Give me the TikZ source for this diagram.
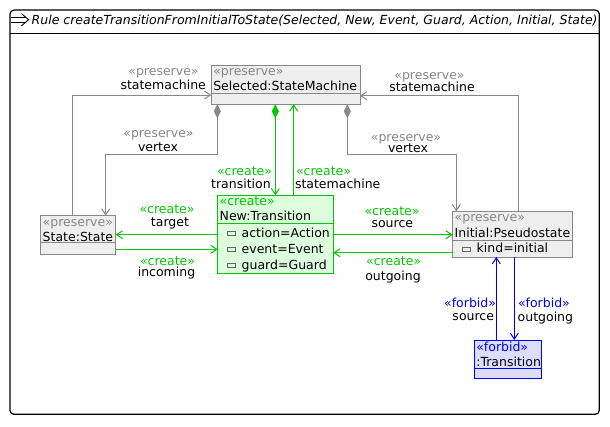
\documentclass[tikz,border=0pt]{standalone}
\usepackage{fontspec}
\setmainfont{DejaVu Sans}[ItalicFont={DejaVu Sans Oblique}]
\usetikzlibrary{arrows.meta}
\definecolor{pgrey}{RGB}{136,136,136}
\definecolor{pfill}{RGB}{238,238,238}
\definecolor{cgreen}{RGB}{0,200,0}
\definecolor{cfill}{RGB}{221,255,221}
\definecolor{fblue}{RGB}{0,0,255}
\definecolor{ffill}{RGB}{221,221,255}
\begin{document}
\begin{tikzpicture}[x=1pt,y=-1pt,
  font=\fontsize{12.5}{15}\selectfont,
  oarr/.tip={Straight Barb[length=6pt,width=8pt]},
  dmd/.tip={Diamond[length=14pt,width=7pt]},
  boxbase/.style={line width=1pt, inner sep=0pt, outer sep=0pt, anchor=north west},
  pbox/.style={boxbase, draw=pgrey, fill=pfill},
  cbox/.style={boxbase, draw=cgreen, fill=cfill},
  fbox/.style={boxbase, draw=fblue, fill=ffill},
  pline/.style={draw=pgrey, line width=1pt},
  cline/.style={draw=cgreen, line width=1pt},
  fline/.style={draw=fblue, line width=1pt},
  txt/.style={inner sep=0pt, outer sep=0pt},
  pst/.style={txt, text=pgrey},
  cst/.style={txt, text=cgreen},
  fst/.style={txt, text=fblue},
  icon/.style={draw=black!60, line width=0.8pt},
]
\useasboundingbox (0,0) rectangle (610,426);

% frame
\draw[line width=1.2pt, rounded corners=4pt] (10,10) rectangle (599.3,414.3);
\coordinate (frl) at (10,33.3);
\coordinate (frr) at (599.3,33.3);
\draw[line width=1pt] (frl) -- (frr);
% title arrow
\coordinate (ta1) at (11.3,17.2);
\coordinate (ta2) at (25.5,17.2);
\coordinate (ta3) at (11.3,22.2);
\coordinate (ta4) at (25.5,22.2);
\coordinate (ta5) at (21.5,13.6);
\coordinate (ta6) at (28.6,19.7);
\coordinate (ta7) at (21.5,25.8);
\draw[line width=0.9pt] (ta1) -- (ta2) (ta3) -- (ta4);
\draw[line width=0.9pt, line join=miter] (ta5) -- (ta6) -- (ta7);
\node[txt, anchor=base west, font=\fontsize{12.5}{15}\selectfont\itshape] (title) at (31.7,24.3)
  {Rule createTransitionFromInitialToState(Selected, New, Event, Guard, Action, Initial, State)};

% boxes
\node[pbox, minimum width=148.7pt, minimum height=39pt] (sel) at (211.3,65.3) {};
\node[pbox, minimum width=75pt, minimum height=38.3pt] (st) at (40.7,215.7) {};
\node[cbox, minimum width=115.6pt, minimum height=78pt] (nw) at (217.7,195.3) {};
\node[pbox, minimum width=119.6pt, minimum height=45.7pt] (ini) at (452.7,211.3) {};
\node[fbox, minimum width=67pt, minimum height=38.7pt] (fb) at (474.3,340) {};

% dividers
\draw[draw=pgrey, line width=1pt] ([yshift=11pt]sel.south west) -- ([yshift=11pt]sel.south east);
\draw[draw=pgrey, line width=1pt] ([yshift=11.3pt]st.south west) -- ([yshift=11.3pt]st.south east);
\draw[draw=cgreen, line width=1pt] ([yshift=-28pt]nw.north west) -- ([yshift=-28pt]nw.north east);
\draw[draw=pgrey, line width=1pt] ([yshift=-28.7pt]ini.north west) -- ([yshift=-28.7pt]ini.north east);
\draw[draw=fblue, line width=1pt] ([yshift=10.4pt]fb.south west) -- ([yshift=10.4pt]fb.south east);

% box texts
\node[pst, anchor=base west] (selst) at ([xshift=2pt,yshift=-10pt]sel.north west) {«preserve»};
\node[txt, anchor=base west] (selnm) at ([xshift=2pt,yshift=-25.5pt]sel.north west) {Selected:StateMachine};
\node[pst, anchor=base west] (stst) at ([xshift=2pt,yshift=-11pt]st.north west) {«preserve»};
\node[txt, anchor=base west] (stnm) at ([xshift=2pt,yshift=-25.3pt]st.north west) {State:State};
\node[cst, anchor=base west] (nwst) at ([xshift=2pt,yshift=-10.4pt]nw.north west) {«create»};
\node[txt, anchor=base west] (nwnm) at ([xshift=2pt,yshift=-24.7pt]nw.north west) {New:Transition};
\node[txt, anchor=base west] (nwa1) at ([xshift=24pt,yshift=-41.9pt]nw.north west) {action=Action};
\node[txt, anchor=base west] (nwa2) at ([xshift=24pt,yshift=-57.9pt]nw.north west) {event=Event};
\node[txt, anchor=base west] (nwa3) at ([xshift=24pt,yshift=-73.9pt]nw.north west) {guard=Guard};
\node[pst, anchor=base west] (inist) at ([xshift=2pt,yshift=-10.4pt]ini.north west) {«preserve»};
\node[txt, anchor=base west] (ininm) at ([xshift=2pt,yshift=-25.7pt]ini.north west) {Initial:Pseudostate};
\node[txt, anchor=base west] (inia1) at ([xshift=24pt,yshift=-41.5pt]ini.north west) {kind=initial};
\node[fst, anchor=base west] (fbst) at ([xshift=2pt,yshift=-11pt]fb.north west) {«forbid»};
\node[txt, anchor=base west] (fbnm) at ([xshift=2pt,yshift=-26pt]fb.north west) {:Transition};

% attribute icons
\draw[icon] (227,231) rectangle (235,235.6);
\draw[icon] (227,247) rectangle (235,251.6);
\draw[icon] (227,263) rectangle (235,267.6);
\draw[icon] (462,247) rectangle (470,251.6);

% grey connectors
\coordinate (v1) at (105.7,154);
\coordinate (v2) at (456.3,154);
\coordinate (s1) at ([yshift=-10.2pt]sel.west);
\coordinate (s2) at ([yshift=-10.9pt]sel.east);
\draw[pline, dmd-oarr] ([xshift=6pt]sel.south west) |- (v1) -- (v1 |- st.north);
\draw[pline, dmd-oarr] ([xshift=136pt]sel.south west) |- (v2) -- (v2 |- ini.north);
\draw[pline, -oarr] ([xshift=32pt]st.north west) |- (s1);
\draw[pline, -oarr] ([xshift=65.3pt]ini.north west) |- (s2);

% green connectors
\coordinate (g1) at ([xshift=64pt]sel.south west);
\coordinate (g2) at ([xshift=82.4pt]sel.south west);
\coordinate (h1) at (0,234.7);
\coordinate (h2) at (0,249.3);
\coordinate (h3) at (0,252.7);
\draw[cline, dmd-oarr] (g1) -- (g1 |- nw.north);
\draw[cline, -oarr] (g2 |- nw.north) -- (g2);
\draw[cline, -oarr] (nw.west |- h1) -- (st.east |- h1);
\draw[cline, -oarr] (st.east |- h2) -- (nw.west |- h2);
\draw[cline, -oarr] (nw.east |- h1) -- (ini.west |- h1);
\draw[cline, -oarr] (ini.west |- h3) -- (nw.east |- h3);

% blue connectors
\coordinate (b1) at (496.3,0);
\coordinate (b2) at (514.3,0);
\draw[fline, -oarr] (fb.north -| b1) -- (ini.south -| b1);
\draw[fline, -oarr] (ini.south -| b2) -- (fb.north -| b2);

% connector labels
\node[pst, anchor=base] (l1a) at (163.5,75.7) {«preserve»};
\node[txt, anchor=base] (l1b) at (163.2,89.5) {statemachine};
\node[pst, anchor=base] (l2a) at (429.5,79) {«preserve»};
\node[txt, anchor=base] (l2b) at (432,91) {statemachine};
\node[pst, anchor=base] (l3a) at (158.5,137.5) {«preserve»};
\node[txt, anchor=base] (l3b) at (158,151.7) {vertex};
\node[pst, anchor=base] (l4a) at (406,141.3) {«preserve»};
\node[txt, anchor=base] (l4b) at (408,152.6) {vertex};
\node[cst, anchor=base east] (l5a) at (272,175.3) {«create»};
\node[txt, anchor=base east] (l5b) at (270.7,188.3) {transition};
\node[cst, anchor=base west] (l6a) at (296,175) {«create»};
\node[txt, anchor=base west] (l6b) at (295,188.3) {statemachine};
\node[cst, anchor=base] (l7a) at (167,213.3) {«create»};
\node[txt, anchor=base] (l7b) at (170,226.7) {target};
\node[cst, anchor=base] (l8a) at (167.5,265.3) {«create»};
\node[txt, anchor=base] (l8b) at (166.5,276.6) {incoming};
\node[cst, anchor=base] (l9a) at (392,215.2) {«create»};
\node[txt, anchor=base] (l9b) at (392.3,227) {source};
\node[cst, anchor=base] (l10a) at (393.7,265.3) {«create»};
\node[txt, anchor=base] (l10b) at (393,280.5) {outgoing};
\node[fst, anchor=base east] (l11a) at (496,307.3) {«forbid»};
\node[txt, anchor=base east] (l11b) at (494,320.7) {source};
\node[fst, anchor=base west] (l12a) at (518,307.3) {«forbid»};
\node[txt, anchor=base west] (l12b) at (517.7,321) {outgoing};
\end{tikzpicture}
\end{document}
